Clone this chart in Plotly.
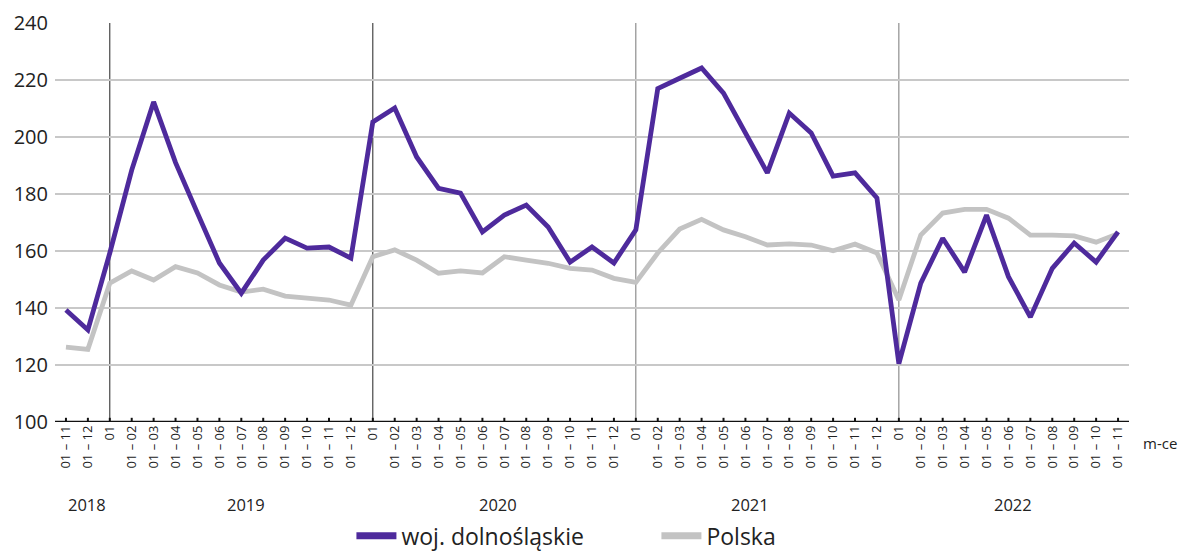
import plotly.graph_objects as go

years = ["2018", "2019", "2020", "2021", "2022"]
month_labels = (["01 – 11", "01 – 12"]
                + (["01"] + [f"01 – {m:02d}" for m in range(2, 13)]) * 3
                + ["01"] + [f"01 – {m:02d}" for m in range(2, 12)])

dolnoslaskie = [139.3, 132.3,
                159.3, 188.4, 212.3, 191.0, 173.3, 155.8, 145.2, 156.8, 164.5, 161.0, 161.4, 157.5,
                205.3, 210.2, 193.0, 182.0, 180.3, 166.7, 172.6, 176.1, 168.4, 156.1, 161.4, 155.8,
                167.4, 217.0, 220.6, 224.2, 215.4, 201.4, 187.4, 208.4, 201.4, 186.3, 187.4, 178.6,
                120.5, 148.7, 164.5, 152.6, 172.6, 151.0, 136.8, 153.9, 162.8, 156.1, 166.7]
polska = [126.3, 125.5,
          148.7, 153.0, 149.8, 154.5, 152.3, 148.1, 145.6, 146.6, 144.2, 143.5, 142.8, 141.0,
          158.0, 160.4, 156.8, 152.2, 153.0, 152.3, 158.0, 156.8, 155.7, 153.9, 153.3, 150.4,
          149.0, 159.3, 167.7, 171.1, 167.4, 165.0, 162.1, 162.5, 162.1, 160.1, 162.4, 159.3,
          142.8, 165.6, 173.3, 174.6, 174.6, 171.5, 165.6, 165.6, 165.3, 163.1, 166.1]

PURPLE = "#4e2a9c"
GRAY = "#c3c3c3"

x = list(range(len(month_labels)))
year_starts = [i for i, t in enumerate(month_labels) if t == "01"]

fig = go.Figure()
fig.add_trace(go.Scatter(x=x, y=polska, mode="lines", name="Polska", showlegend=False,
                         line=dict(color=GRAY, width=4.8)))
fig.add_trace(go.Scatter(x=x, y=dolnoslaskie, mode="lines", name="woj. dolnośląskie", showlegend=False,
                         line=dict(color=PURPLE, width=4.8)))
# legend entries (thicker sample lines)
fig.add_trace(go.Scatter(x=[None], y=[None], mode="lines", name="woj. dolnośląskie",
                         line=dict(color=PURPLE, width=7)))
fig.add_trace(go.Scatter(x=[None], y=[None], mode="lines", name="Polska",
                         line=dict(color=GRAY, width=7)))

for k, xs in enumerate(year_starts):
    fig.add_shape(type="line", xref="x", yref="y", x0=xs, x1=xs, y0=100, y1=240,
                  line=dict(color="#222222" if k < 2 else "#777777", width=1), layer="below")

# year labels
year_centers = [0.95, year_starts[0] + 6.2, year_starts[1] + 5.7, year_starts[2] + 5.2, year_starts[3] + 5.2]
for yr, xc in zip(years, year_centers):
    fig.add_annotation(x=xc, xref="x", y=-0.208, yref="paper", text=yr, showarrow=False,
                       font=dict(size=16.5, color="#222"), yanchor="middle")
fig.add_annotation(x=1.029, xref="paper", y=-0.053, yref="paper", text="m-ce", showarrow=False,
                   font=dict(size=15, color="#222"), xanchor="center", yanchor="middle")

fig.update_layout(
    width=1178, height=551,
    margin=dict(l=55, r=49, t=23, b=129, autoexpand=False),
    paper_bgcolor="white", plot_bgcolor="white",
    font=dict(family="Open Sans, Noto Sans, sans-serif", color="#222"),
    showlegend=True,
    legend=dict(orientation="h", x=0.276, xanchor="left", y=-0.285, yanchor="middle",
                font=dict(size=23, color="#222"), traceorder="normal", itemwidth=40,
                entrywidth=250, entrywidthmode="pixels"),
    xaxis=dict(range=[-0.5, len(x) - 0.5], tickmode="array", tickvals=x, ticktext=month_labels,
               tickangle=-90, tickfont=dict(size=13), showgrid=False, zeroline=False,
               showline=False, ticks="", fixedrange=True, automargin=False),
    yaxis=dict(range=[100, 240], tickvals=list(range(100, 241, 20)), tickfont=dict(size=20),
               showgrid=True, gridcolor="#c8c8c8", gridwidth=1.5, zeroline=False,
               showline=False, ticks="", ticklabelstandoff=6, automargin=False, fixedrange=True),
)
# axis baseline and small ticks
fig.add_shape(type="line", xref="paper", yref="y", x0=0, x1=1, y0=100, y1=100,
              line=dict(color="#111", width=2.5))
fig.add_trace(go.Scatter(x=x, y=[100] * len(x), mode="markers", showlegend=False, hoverinfo="skip",
                         marker=dict(symbol="line-ns", size=6, line=dict(color="#111", width=2))))

fig.write_html("out.html", config={"displayModeBar": False},
               post_script="document.body.style.margin='0px';")
